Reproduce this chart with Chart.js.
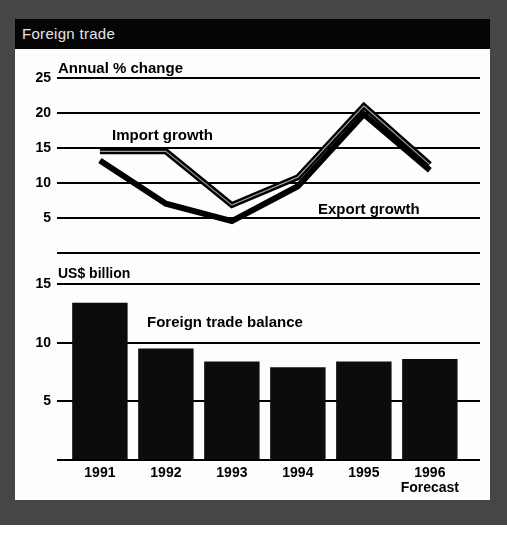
<!DOCTYPE html>
<html>
<head>
<meta charset="utf-8">
<script src="https://cdn.jsdelivr.net/npm/chart.js@4"></script>
<style>
  body { margin: 0; background: #fff; }
  #frame { position: absolute; left: 0; top: 0; width: 507px; height: 525px; background: #464646; }
  #titlebar { position: absolute; left: 15px; top: 19px; width: 475px; height: 30px; background: #050505; }
  #title { position: absolute; left: 22px; top: 25px; color: #e4e4e4; font: 15px "Liberation Sans", Arial, sans-serif; letter-spacing: 0.3px; }
  #panel { position: absolute; left: 15px; top: 49px; width: 475px; height: 451px; background: #fdfdfd; }
  canvas { position: absolute; left: 15px; }
  .lbl { position: absolute; font: bold 15px "Liberation Sans", Arial, sans-serif; color: #000; white-space: nowrap; }
</style>
</head>
<body>
<div id="frame"></div>
<div id="titlebar"></div>
<div id="title">Foreign trade</div>
<div id="panel"></div>
<canvas id="growthChart" width="475" height="218" style="top:49px;width:475px;height:218px"></canvas>
<canvas id="balanceChart" width="475" height="233" style="top:267px;width:475px;height:233px"></canvas>
<div class="lbl" style="left:58px;top:59px;">Annual % change</div>
<div class="lbl" style="left:112px;top:126px;">Import growth</div>
<div class="lbl" style="left:318px;top:200px;">Export growth</div>
<div class="lbl" style="left:58px;top:265px;font-size:14px;">US$ billion</div>
<div class="lbl" style="left:147px;top:313px;">Foreign trade balance</div>
<script>
var years = ["1991", "1992", "1993", "1994", "1995", "1996"];
var importGrowth = [14.5, 14.5, 6.8, 10.8, 21.0, 12.6];
var exportGrowth = [13.2, 7.0, 4.5, 9.5, 19.8, 11.8];
var tradeBalance = [13.4, 9.5, 8.4, 7.9, 8.4, 8.6];
var growthTicks = [0, 5, 10, 15, 20, 25];
var balanceTicks = [0, 5, 10, 15];

Chart.defaults.font.family = "'Liberation Sans', Arial, sans-serif";
Chart.defaults.font.weight = "bold";
Chart.defaults.font.size = 14;
Chart.defaults.color = "#000";

function pts(arr) {
    return arr.map(function (v, i) { return { x: i, y: v }; });
}

var xRange = { min: -0.65, max: 5.76 };

function yAxis(max, ticks) {
    return {
        min: 0,
        max: max,
        afterFit: function (s) { s.width = 42; },
        afterBuildTicks: function (s) { s.ticks = ticks.map(function (t) { return { value: t }; }); },
        ticks: {
            padding: 6,
            callback: function (v) { return v === 0 ? "" : v; }
        },
        grid: { color: "#000", lineWidth: 2, drawTicks: false },
        border: { display: false }
    };
}

let growthChart = new Chart(document.getElementById("growthChart"), {
    type: "line",
    data: {
        datasets: [{
            label: "Import growth inner",
            data: pts(importGrowth),
            borderColor: "#9a9a9a",
            borderWidth: 1.2,
            order: 0
        }, {
            label: "Import growth",
            data: pts(importGrowth),
            borderColor: "#000",
            borderWidth: 6,
            order: 1
        }, {
            label: "Export growth",
            data: pts(exportGrowth),
            borderColor: "#000",
            borderWidth: 6,
            order: 2
        }]
    },
    options: {
        responsive: false,
        animation: false,
        events: [],
        layout: { padding: { top: 29, bottom: 10, right: 10, left: 0 } },
        elements: {
            point: { radius: 0 },
            line: { tension: 0, borderJoinStyle: "miter", borderCapStyle: "butt" }
        },
        plugins: { legend: { display: false }, tooltip: { enabled: false } },
        scales: {
            x: { type: "linear", min: xRange.min, max: xRange.max, display: false },
            y: yAxis(25, growthTicks)
        }
    }
});

let balanceChart = new Chart(document.getElementById("balanceChart"), {
    type: "bar",
    data: {
        datasets: [{
            label: "Foreign trade balance",
            data: pts(tradeBalance),
            backgroundColor: "#0c0c0c",
            barPercentage: 0.84,
            categoryPercentage: 1
        }]
    },
    options: {
        responsive: false,
        animation: false,
        events: [],
        layout: { padding: { top: 17, bottom: 0, right: 10, left: 0 } },
        plugins: { legend: { display: false }, tooltip: { enabled: false } },
        scales: {
            x: {
                type: "linear",
                offset: false,
                min: xRange.min,
                max: xRange.max,
                afterFit: function (s) { s.height = 40; },
                afterBuildTicks: function (s) { s.ticks = years.map(function (y, i) { return { value: i }; }); },
                ticks: {
                    autoSkip: false,
                    maxRotation: 0,
                    padding: -3,
                    font: { size: 14, weight: "bold", lineHeight: 1.1 },
                    callback: function (v) {
                        return v === years.length - 1 ? [years[v], "Forecast"] : years[v];
                    }
                },
                grid: { display: false },
                border: { display: false }
            },
            y: yAxis(15, balanceTicks)
        }
    }
});
</script>
</body>
</html>
